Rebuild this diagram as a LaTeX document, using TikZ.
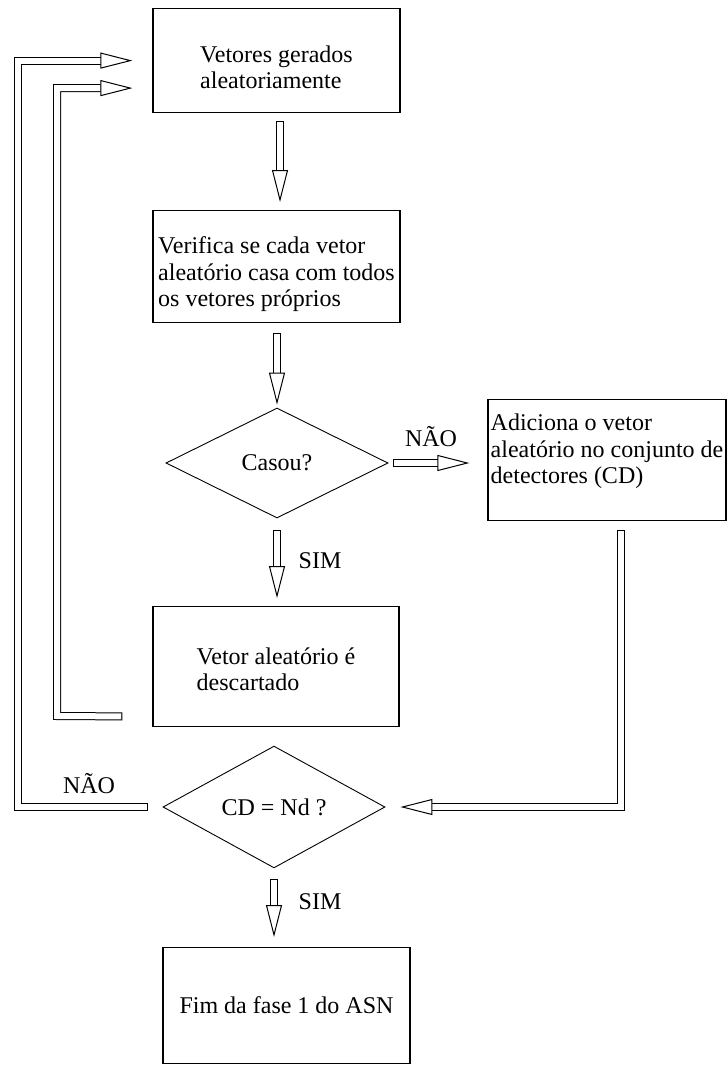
\documentclass[tikz,border=0pt]{standalone}
\usepackage{fontspec}
\setmainfont{Liberation Serif}
\usetikzlibrary{arrows.meta,shapes.geometric}
\tikzset{
  kasten/.style={draw, line width=1.2pt, rectangle, align=left, inner sep=0pt,
    minimum width=247pt, anchor=north},
  raute/.style={draw, line width=0.9pt, diamond, inner sep=0pt,
    minimum width=222pt, minimum height=110pt},
  blockpfeil/.style={double, double distance=6pt, line width=1pt,
    {Bar[width=8pt, line width=1pt]}-{Triangle[open, length=32pt, width=16pt, line width=1pt]}},
}
\begin{document}
\begin{tikzpicture}[x=1pt, y=-1pt, font=\fontsize{24}{26.5}\selectfont]
    \useasboundingbox (0,0) rectangle (727,1065);

    % Kaesten und Rauten (text height bis zur letzten Zeile)
    \node[kasten, text height=80pt, text depth=24pt] (gen) at (276.5,8)
        {Vetores gerados\\aleatoriamente};
    \node[kasten, text height=96pt, text depth=16pt] (ver) at (276.5,210)
        {Verifica se cada vetor\\aleatório casa com todos\\os vetores próprios};
    \node[raute] (cas) at (277,463) {Casou?};
    \node[kasten, minimum width=238pt, text height=84pt, text depth=37pt] (add) at (607,399)
        {Adiciona o vetor\\aleatório no conjunto de\\detectores (CD)};
    \node[kasten, minimum width=246pt, text height=84pt, text depth=36pt] (desc) at (276,606)
        {Vetor aleatório é\\descartado};
    \node[raute] (tam) at (274,807) {CD = Nd ?};
    \node[kasten, text height=66pt, text depth=50pt] (fim) at (286.5,947)
        {Fim da fase 1 do ASN};

    % Beschriftung
    \node (nao1) at (431,437) {NÃO};
    \node (sim1) at (320,561) {SIM};
    \node (nao2) at (89,784) {NÃO};
    \node (sim2) at (320,902) {SIM};

    % Pfeile
    \draw[blockpfeil, shorten <=8pt, shorten >=8pt] (gen.south -| 280,0) -- (ver.north -| 280,0);
    \draw[blockpfeil, shorten <=10pt, shorten >=3pt] (ver.south -| cas.north) -- (cas.north);
    \draw[blockpfeil, shorten <=5pt, shorten >=18pt] (cas.east) -- (add.west |- cas.east);
    \draw[blockpfeil, shorten <=12pt, shorten >=8pt] (cas.south) -- (desc.north -| cas.south);
    \draw[blockpfeil, shorten <=11pt, shorten >=10pt] (tam.south) -- (fim.north -| tam.south);

    % Rueckfuehrungen
    \coordinate (genin) at ([yshift=-27.5pt]gen.west);
    \draw[blockpfeil, shorten <=9pt, shorten >=15pt] ([xshift=14pt]add.south) |- (tam.east);
    \draw[blockpfeil, shorten <=15pt, shorten >=20pt] (tam.west) -- (17.5,807) |- (gen.west);
    \draw[blockpfeil, shorten <=30pt, shorten >=20pt] ([yshift=-50pt]desc.west) -- (57,716) |- (genin);
\end{tikzpicture}
\end{document}
